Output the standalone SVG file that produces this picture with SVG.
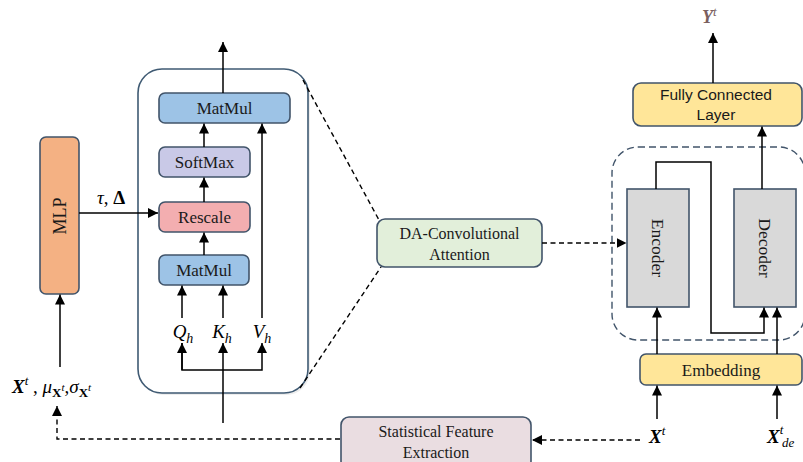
<svg xmlns="http://www.w3.org/2000/svg" width="803" height="462" viewBox="0 0 803 462">
  <defs>
    <marker id="arrow" markerUnits="userSpaceOnUse" markerWidth="10" markerHeight="10" viewBox="0 0 10 10" refX="10" refY="5" orient="auto">
      <path d="M0,0 L10,5 L0,10 z" fill="#000"/>
    </marker>
    <style>
      .box { stroke: #41546A; stroke-width: 1.6; }
      .wire { fill: none; stroke: #000; stroke-width: 1.5; }
      .dash { fill: none; stroke: #000; stroke-width: 1.4; stroke-dasharray: 5 3.5; }
      .serif { font-family: "Liberation Serif", "Times New Roman", serif; fill: #1a1a1a; }
      .sans { font-family: "Liberation Sans", Arial, sans-serif; fill: #1a1a1a; }
      .math { font-family: "Liberation Serif", "Times New Roman", serif; font-style: italic; fill: #000; }
      .out { fill: #7B5F5F; }
    </style>
  </defs>

  <rect width="803" height="462" fill="#fff"/>

  <!-- attention block container -->
  <g id="attention-block">
    <rect x="140" y="71" width="170" height="324" rx="24" fill="#e6e6e6" opacity="0.7"/>
    <rect x="138" y="69" width="170" height="324" rx="24" fill="#fff" stroke="#3F5A73" stroke-width="1.6"/>
  </g>

  <g id="matmul-top">
    <rect class="box" x="159" y="93" width="131" height="30" rx="6" fill="#9DC3E6"/>
    <text class="serif" x="224.5" y="114" font-size="17" text-anchor="middle">MatMul</text>
  </g>
  <g id="softmax">
    <rect class="box" x="159" y="147" width="91" height="30" rx="6" fill="#C9C9E7"/>
    <text class="serif" x="204.5" y="168" font-size="17" text-anchor="middle">SoftMax</text>
  </g>
  <g id="rescale">
    <rect class="box" x="159" y="202" width="91" height="30" rx="6" fill="#F3AEB0"/>
    <text class="serif" x="204.5" y="223" font-size="17" text-anchor="middle">Rescale</text>
  </g>
  <g id="matmul-bottom">
    <rect class="box" x="159" y="255" width="90" height="30" rx="6" fill="#9DC3E6"/>
    <text class="serif" x="204" y="276" font-size="17" text-anchor="middle">MatMul</text>
  </g>

  <g id="qkv-labels">
    <text class="math" x="183" y="338" font-size="19" text-anchor="middle">Q<tspan font-size="14" dy="5">h</tspan></text>
    <text class="math" x="222" y="338" font-size="19" text-anchor="middle">K<tspan font-size="14" dy="5">h</tspan></text>
    <text class="math" x="262" y="338" font-size="19" text-anchor="middle">V<tspan font-size="14" dy="5">h</tspan></text>
  </g>

  <g id="mlp">
    <rect class="box" x="40" y="137" width="39" height="157" rx="6" fill="#F4B183"/>
    <text class="serif" x="0" y="0" font-size="18" text-anchor="middle" transform="translate(66 216) rotate(-90)">MLP</text>
  </g>

  <g id="da-attention">
    <rect class="box" x="377" y="219" width="165" height="48" rx="8" fill="#E2EFDA"/>
    <text class="serif" x="459.5" y="239" font-size="16" text-anchor="middle">DA-Convolutional</text>
    <text class="serif" x="459.5" y="260" font-size="16" text-anchor="middle">Attention</text>
  </g>

  <g id="encoder-decoder-group">
    <rect x="612" y="147" width="193" height="193" rx="26" fill="none" stroke="#41546A" stroke-width="1.4" stroke-dasharray="7 4"/>
  </g>
  <g id="encoder">
    <rect class="box" x="627" y="189" width="62" height="118" fill="#D9D9D9"/>
    <text class="serif" x="0" y="0" font-size="17.5" text-anchor="middle" transform="translate(652 248) rotate(90)">Encoder</text>
  </g>
  <g id="decoder">
    <rect class="box" x="734" y="189" width="62" height="118" fill="#D9D9D9"/>
    <text class="serif" x="0" y="0" font-size="17.5" text-anchor="middle" transform="translate(759 248) rotate(90)">Decoder</text>
  </g>

  <g id="embedding">
    <rect class="box" x="640" y="354" width="162" height="31" rx="6" fill="#FFE699"/>
    <text class="serif" x="721" y="376" font-size="17" text-anchor="middle">Embedding</text>
  </g>

  <g id="fully-connected">
    <rect class="box" x="633" y="83" width="169" height="43" rx="8" fill="#FFE699"/>
    <text class="sans" x="716" y="100" font-size="15.5" text-anchor="middle">Fully Connected</text>
    <text class="sans" x="716" y="120" font-size="15.5" text-anchor="middle">Layer</text>
  </g>

  <g id="statistical-feature">
    <rect class="box" x="341" y="417" width="190" height="52" rx="8" fill="#EADDE1"/>
    <text class="serif" x="436" y="437" font-size="16" text-anchor="middle">Statistical Feature</text>
    <text class="serif" x="436" y="458" font-size="16" text-anchor="middle">Extraction</text>
  </g>

  <!-- input / output symbols -->
  <g id="labels">
    <text class="math" x="97" y="204" font-size="19">τ<tspan font-style="normal">, </tspan><tspan font-style="normal" font-weight="bold">Δ</tspan></text>
    <text class="math" x="12" y="393" font-size="19"><tspan font-weight="bold">X</tspan><tspan font-size="13" dy="-8">t</tspan><tspan font-style="normal" dy="8"> , </tspan>μ<tspan font-size="13" font-style="normal" font-weight="bold" dy="4">X</tspan><tspan font-size="11" dy="-6">t</tspan><tspan font-style="normal" dy="2">,</tspan>σ<tspan font-size="13" font-style="normal" font-weight="bold" dy="4">X</tspan><tspan font-size="11" dy="-6">t</tspan></text>
    <text class="math" x="649" y="443" font-size="19" font-weight="bold">X<tspan font-size="13" font-weight="normal" dy="-8">t</tspan></text>
    <text class="math" x="767" y="443" font-size="19" font-weight="bold">X<tspan font-size="13" font-weight="normal" dy="-9">t</tspan><tspan font-size="13" font-weight="normal" x="782" dy="13">de</tspan></text>
    <text class="math out" x="702" y="23" font-size="18" font-weight="bold">Y<tspan class="out" font-size="13" font-weight="normal" dy="-7">t</tspan></text>
  </g>

  <!-- connectors -->
  <g id="connectors">
    <line class="wire" x1="223" y1="93" x2="223" y2="42" marker-end="url(#arrow)"/>
    <line class="wire" x1="204" y1="147" x2="204" y2="123.5" marker-end="url(#arrow)"/>
    <line class="wire" x1="204" y1="202" x2="204" y2="177.5" marker-end="url(#arrow)"/>
    <line class="wire" x1="204" y1="255" x2="204" y2="232.5" marker-end="url(#arrow)"/>
    <line class="wire" x1="262" y1="318" x2="262" y2="123.5" marker-end="url(#arrow)"/>
    <line class="wire" x1="182" y1="318" x2="182" y2="285.5" marker-end="url(#arrow)"/>
    <line class="wire" x1="223" y1="318" x2="223" y2="285.5" marker-end="url(#arrow)"/>
    <path class="wire" d="M182,343 V370 H262 V343" marker-end="url(#arrow)"/>
    <line class="wire" x1="182" y1="370" x2="182" y2="343" marker-end="url(#arrow)"/>
    <line class="wire" x1="223" y1="423" x2="223" y2="343" marker-end="url(#arrow)"/>
    <line class="wire" x1="79" y1="213" x2="158" y2="213" marker-end="url(#arrow)"/>
    <line class="wire" x1="60" y1="367" x2="60" y2="294.5" marker-end="url(#arrow)"/>
    <path class="dash" d="M340,439 H57 V406" marker-end="url(#arrow)"/>
    <line class="dash" x1="303" y1="80" x2="379" y2="220"/>
    <line class="dash" x1="300" y1="388" x2="381" y2="267"/>
    <line class="dash" x1="542" y1="243" x2="626.5" y2="243" marker-end="url(#arrow)"/>
    <path class="wire" d="M656,189 V162 H711 V333 H764 V307.5" marker-end="url(#arrow)"/>
    <line class="wire" x1="657" y1="354" x2="657" y2="307.5" marker-end="url(#arrow)"/>
    <line class="wire" x1="777" y1="354" x2="777" y2="307.5" marker-end="url(#arrow)"/>
    <line class="wire" x1="657" y1="419" x2="657" y2="385.5" marker-end="url(#arrow)"/>
    <line class="wire" x1="777" y1="419" x2="777" y2="385.5" marker-end="url(#arrow)"/>
    <line class="wire" x1="762" y1="189" x2="762" y2="126.5" marker-end="url(#arrow)"/>
    <line class="wire" x1="713" y1="83" x2="713" y2="33" marker-end="url(#arrow)"/>
    <line class="dash" x1="640" y1="440" x2="532" y2="440" marker-end="url(#arrow)"/>
  </g>
</svg>
